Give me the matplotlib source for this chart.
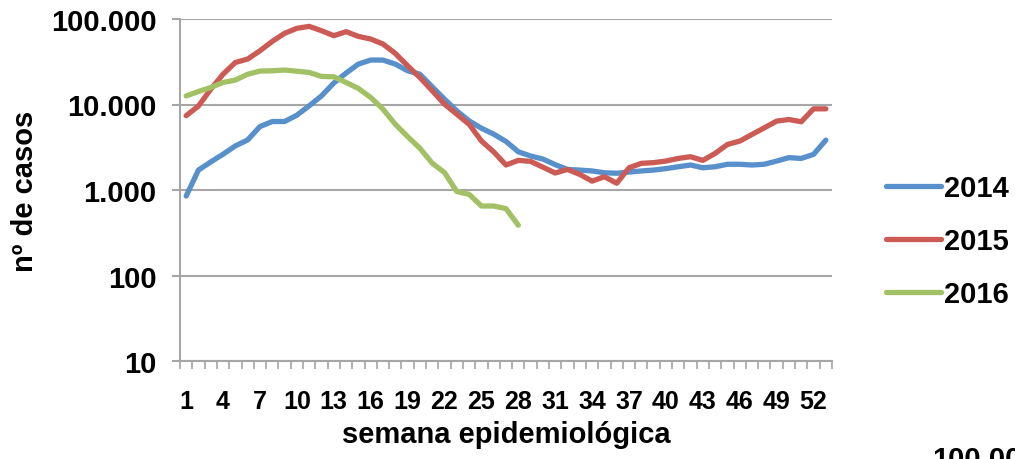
import matplotlib.pyplot as plt
from matplotlib.ticker import FixedLocator, FuncFormatter, NullFormatter

plt.rcParams["font.family"] = ["Liberation Sans", "DejaVu Sans"]
plt.rcParams["font.weight"] = "bold"

# Casos semanales por año
weeks = list(range(1, 54))
casos_2014 = [850, 1710, 2130, 2620, 3280, 3850, 5520, 6320, 6320, 7500,
              9650, 12600, 17800, 23300, 29700, 33100, 33100, 29700, 24800, 22600,
              16100, 11550, 8430, 6440, 5280, 4500, 3700, 2800, 2500, 2300,
              1980, 1740, 1710, 1670, 1590, 1570, 1620, 1670, 1710, 1780,
              1870, 1960, 1820, 1870, 2000, 2000, 1960, 2000, 2180, 2390,
              2340, 2610, 3830]
casos_2015 = [7400, 9600, 15100, 22600, 31000, 34000, 42500, 54700, 68000, 77800,
              82000, 73000, 63800, 71100, 62600, 58300, 51000, 39600, 28400, 20700,
              14500, 10100, 7700, 5880, 3750, 2790, 1960, 2220, 2160, 1850,
              1580, 1740, 1520, 1270, 1430, 1200, 1820, 2050, 2090, 2180,
              2340, 2450, 2220, 2680, 3410, 3730, 4470, 5340, 6390, 6680,
              6280, 8900, 8900]
casos_2016 = [12600, 14200, 15800, 18100, 19300, 22600, 24600, 24800, 25300, 24500,
              23700, 21300, 21100, 18100, 15400, 12100, 8820, 5880, 4220, 3080,
              2060, 1600, 960, 890, 650, 650, 605, 387]
week_labels = list(range(1, 53, 3))
y_ticks = [10, 100, 1000, 10000, 100000]

grey = "#a6a6a6"

fig = plt.figure(figsize=(10.15, 4.6), dpi=100)
ax = fig.add_axes([180 / 1015, 1 - 362 / 460, 652 / 1015, 342 / 460])

ax.plot(weeks, casos_2014, color="#5890cc", lw=3.8, label="2014", solid_capstyle="round")
ax.plot(weeks, casos_2015, color="#cc5b55", lw=3.8, label="2015", solid_capstyle="round")
ax.plot(weeks[:len(casos_2016)], casos_2016, color="#a2c164", lw=3.8, label="2016",
        solid_capstyle="round")

ax.set_yscale("log")
ax.set_ylim(10, 100000)
ax.set_xlim(0.5, 53.5)

ax.yaxis.set_major_locator(FixedLocator(y_ticks))
ax.yaxis.set_minor_locator(FixedLocator([]))
ax.yaxis.set_major_formatter(FuncFormatter(lambda v, _: f"{int(v):,}".replace(",", ".")))
ax.grid(axis="y", color=grey, lw=1.5)
ax.set_axisbelow(True)

# marcas entre categorías, etiquetas en el centro de cada semana
ax.set_xticks([w - 0.5 for w in weeks] + [53.5])
ax.xaxis.set_major_formatter(NullFormatter())
ax.set_xticks(week_labels, minor=True)
ax.set_xticklabels([str(w) for w in week_labels], minor=True)
ax.tick_params(axis="x", which="major", length=6, width=1.2, color=grey, direction="out")
ax.tick_params(axis="x", which="minor", length=0, pad=20, labelsize=18)
ax.tick_params(axis="y", which="major", length=6, width=1.5, color=grey, pad=11, labelsize=21)

for side in ("top", "right"):
    ax.spines[side].set_visible(False)
for side in ("left", "bottom"):
    ax.spines[side].set_color(grey)
    ax.spines[side].set_linewidth(1.5)

fig.text(506 / 1015, 1 - 435 / 460, "semana epidemiológica", ha="center", va="center",
         fontsize=21, fontweight="bold")
fig.text(25 / 1015, 1 - 191 / 460, "nº de casos", ha="center", va="center",
         rotation=90, fontsize=21, fontweight="bold")

ax.legend(loc="center left", bbox_to_anchor=(886 / 1015, 1 - 242 / 460),
          bbox_transform=fig.transFigure, frameon=False, fontsize=21,
          borderpad=0, borderaxespad=0, handlelength=1.9, handletextpad=0.1,
          labelspacing=0.85)

# cabecera del gráfico siguiente, cortada por el borde
fig.text(932 / 1015, 1 - 446 / 460, "100.000", ha="left", va="top",
         fontsize=21, fontweight="bold")

fig.savefig("out.png", dpi=100)
